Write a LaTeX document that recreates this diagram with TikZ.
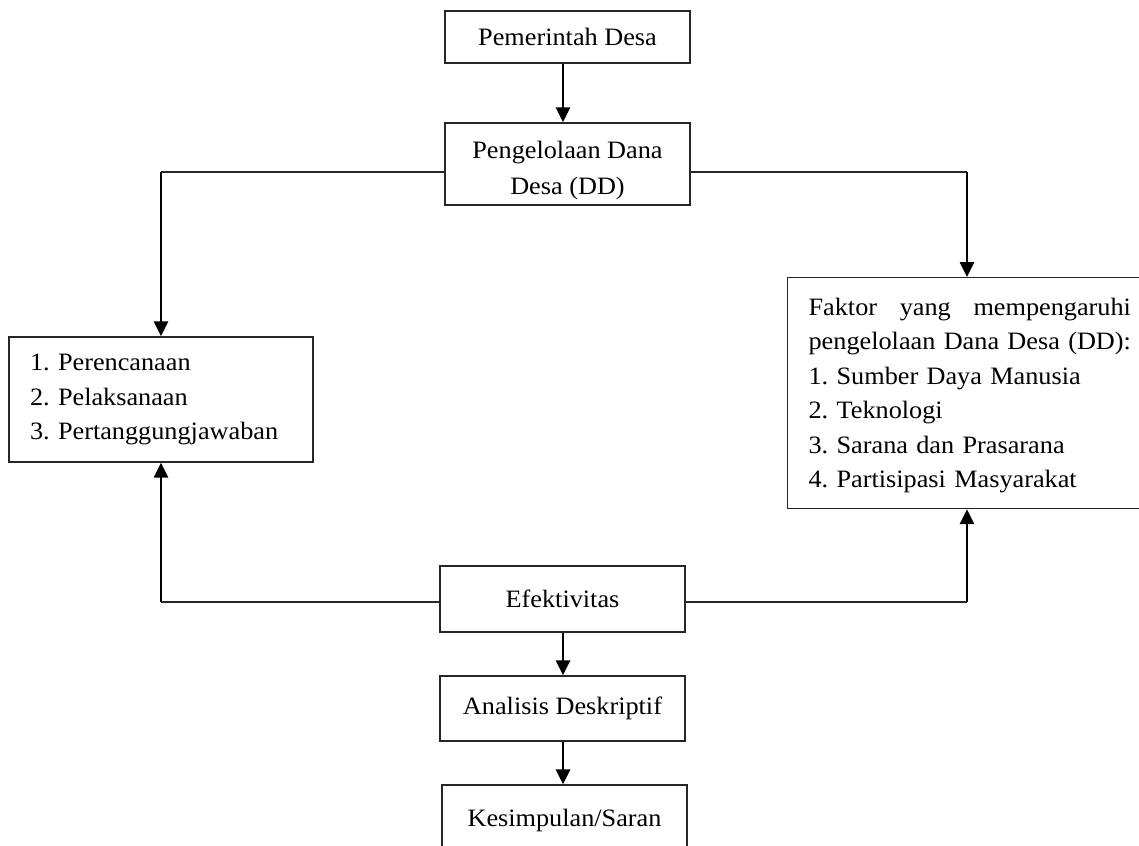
\documentclass[tikz,border=0pt]{standalone}
\usepackage{fontspec}
\setmainfont{Liberation Serif}[FakeStretch=1.05]
\usetikzlibrary{arrows.meta}
\begin{document}
\begin{tikzpicture}[x=1pt,y=-1pt,
  box/.style={draw=black!85, line width=1.2pt, rectangle, inner sep=0pt,
    font=\fontsize{25}{34.5}\selectfont\frenchspacing, align=center},
  arr/.style={line width=2.8pt, -{Triangle[length=15pt,width=14pt]}},
  thin/.style={line width=1.2pt, black!85}]
\useasboundingbox (0,0) rectangle (1139,845);
\clip (0,0) rectangle (1139,845);
\node[box, minimum width=245, minimum height=52] (pem) at (567.5,37) {Pemerintah Desa};
\node[box, minimum width=245, minimum height=82] (peng) at (567.5,164)
  {\rule{0pt}{30pt}Pengelolaan Dana\\[2pt] Desa (DD)};
\node[box, minimum width=304, minimum height=125, align=left, text width=262,
  inner xsep=21pt] (lbox) at (161,399.5)
  {1. Perencanaan\\ 2. Pelaksanaan\\ 3. Pertanggungjawaban};
\node[box, anchor=north west, minimum height=231, align=left, text width=340,
  inner xsep=21pt] (rbox) at (787,277)
  {\setbox0\hbox{pengelolaan Dana Desa (DD):}%
   \rule{0pt}{22pt}\hbox to \wd0{Faktor\hfill yang\hfill mempengaruhi}\\
   \leavevmode\box0\\
   1. Sumber Daya Manusia\\
   2. Teknologi\\
   3. Sarana dan Prasarana\\
   4. Partisipasi Masyarakat};
\node[box, minimum width=245, minimum height=66] (eff) at (562.5,599) {Efektivitas};
\node[box, minimum width=245, minimum height=65] (ana) at (562.5,708.5) {Analisis Deskriptif};
\node[box, minimum width=245, minimum height=64] (kes) at (564.5,817) {\rule{0pt}{24pt}Kesimpulan/Saran};
% corners
\coordinate (tl) at (161,172);
\coordinate (tr) at (967,172);
\coordinate (bl) at (161,602);
\coordinate (br) at (967,602);
% vertical chain
\draw[arr] (563,0 |- pem.south) -- (563,0 |- peng.north);
\draw[arr] (563,0 |- eff.south) -- (563,0 |- ana.north);
\draw[arr] (563,0 |- ana.south) -- (563,0 |- kes.north);
% top branches
\draw[thin] (peng.west |- tl) -- (tl);
\draw[thin] (peng.east |- tr) -- (tr);
\draw[arr] (tl) -- (tl |- lbox.north);
\draw[arr] (tr) -- (tr |- rbox.north);
% bottom branches
\draw[thin] (eff.west |- bl) -- (bl);
\draw[thin] (eff.east |- br) -- (br);
\draw[arr] (bl) -- (bl |- lbox.south);
\draw[arr] (br) -- (br |- rbox.south);
\end{tikzpicture}
\end{document}
